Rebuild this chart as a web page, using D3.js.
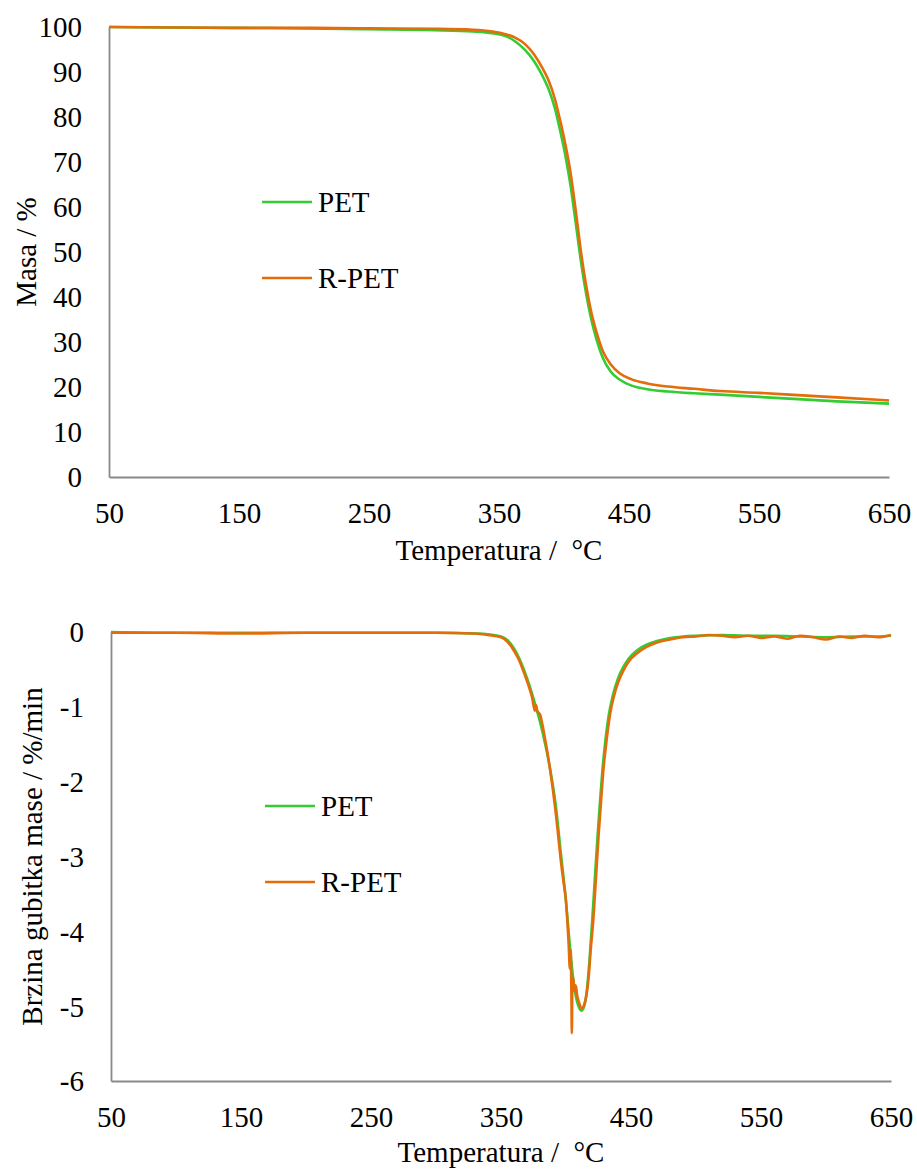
<!DOCTYPE html>
<html>
<head>
<meta charset="utf-8">
<script src="https://d3js.org/d3.v7.min.js"></script>
<style>
  body { margin: 0; background: #fff; }
  svg text { font-family: "Liberation Serif", "Times New Roman", serif !important; fill: #000; }
</style>
</head>
<body>
<div id="chart"></div>
<script>
// ---- data ----
// TG curves (mass %) vs temperature
const massTemp = [50, 100, 150, 200, 250, 300, 330, 345, 355, 362, 370, 377, 383, 388, 393, 397, 401, 405, 409, 413, 417, 421, 425, 430, 436, 443, 452, 464, 480, 500, 520, 550, 580, 610, 650]
const massPET  = [100, 99.9, 99.8, 99.7, 99.5, 99.3, 99.0, 98.6, 98.0, 96.9, 94.9, 92.4, 89.4, 86.3, 81.9, 77.0, 71.5, 64.8, 56.5, 48.0, 40.8, 35.0, 30.6, 26.4, 23.4, 21.6, 20.3, 19.5, 19.0, 18.6, 18.3, 17.8, 17.3, 16.8, 16.3]
const massRPET = [100, 99.9, 99.8, 99.8, 99.7, 99.6, 99.4, 99.0, 98.4, 97.7, 96.2, 93.9, 91.1, 88.2, 84.0, 79.3, 74.0, 67.7, 59.3, 50.2, 42.6, 36.6, 32.2, 27.9, 25.0, 23.0, 21.7, 20.8, 20.1, 19.6, 19.1, 18.7, 18.2, 17.7, 17.0]

// DTG curves (%/min) vs temperature
const dtgTempPET = [50, 100, 150, 200, 250, 300, 330, 340, 350, 355, 360, 364, 368, 372, 376, 380, 384, 388, 392, 396, 400, 403, 406, 409, 412, 414, 416, 418, 420, 422, 424, 426, 428, 430, 433, 436, 440, 444, 448, 455, 462, 470, 480, 490, 500, 520, 540, 560, 580, 600, 620, 640, 650]
const dtgPET     = [0, -0.01, -0.01, -0.01, -0.01, -0.01, -0.02, -0.03, -0.06, -0.11, -0.22, -0.35, -0.52, -0.72, -0.95, -1.2, -1.5, -1.85, -2.3, -2.95, -3.6, -4.2, -4.7, -4.97, -5.06, -5.0, -4.8, -4.4, -3.9, -3.35, -2.8, -2.3, -1.85, -1.5, -1.1, -0.85, -0.62, -0.47, -0.36, -0.24, -0.17, -0.12, -0.08, -0.06, -0.05, -0.04, -0.05, -0.05, -0.06, -0.07, -0.06, -0.06, -0.05]

const dtgTempRPET = [50, 100, 150, 200, 250, 300, 330, 340, 350, 355, 360, 364, 368, 372, 374, 376, 377, 378, 380, 382, 384, 386, 388, 390, 392, 394, 396, 398, 400, 401, 402, 403, 403.6, 404.2, 404.5, 404.9, 405.6, 406.5, 407.5, 408.5, 410, 412, 414, 416, 417.5, 419, 421, 423, 425, 427, 429, 431, 434, 437, 440, 444, 448, 455, 462, 470, 480, 490, 500, 510, 520, 530, 540, 550, 560, 570, 580, 590, 600, 610, 620, 630, 640, 650]
const dtgRPET     = [-0.01, -0.01, -0.02, -0.01, -0.01, -0.01, -0.02, -0.04, -0.07, -0.13, -0.25, -0.38, -0.56, -0.76, -0.88, -1.05, -0.98, -1.06, -1.1, -1.25, -1.44, -1.64, -1.87, -2.12, -2.4, -2.72, -3.05, -3.33, -3.6, -3.85, -4.15, -4.5, -4.25, -4.9, -5.36, -4.7, -4.62, -4.8, -4.72, -4.85, -4.95, -5.03, -4.98, -4.82, -4.6, -4.25, -3.85, -3.3, -2.74, -2.25, -1.8, -1.48, -1.09, -0.85, -0.68, -0.52, -0.40, -0.28, -0.2, -0.14, -0.1, -0.07, -0.06, -0.04, -0.05, -0.07, -0.05, -0.08, -0.06, -0.09, -0.05, -0.07, -0.1, -0.06, -0.08, -0.05, -0.07, -0.04]

const xTicks = [50, 150, 250, 350, 450, 550, 650]
const massTicks = [0, 10, 20, 30, 40, 50, 60, 70, 80, 90, 100]
const dtgTicks = [-6, -5, -4, -3, -2, -1, 0]
const seriesNames = ["PET", "R-PET"]

const colorPET = "#33cc33"
const colorRPET = "#e46c0a"
const axisColor = "#898989"
const serif = '"Liberation Serif", "Times New Roman", serif'
const fontSize = 29

const width = 917
const height = 1169

const svg = d3.select("#chart")
    .append("svg")
    .attr("width", width)
    .attr("height", height)
    .attr("font-family", serif)

function drawPanel(opts) {
    const x = d3.scaleLinear().domain([50, 650]).range(opts.xRange)
    const y = d3.scaleLinear().domain(opts.yDomain).range(opts.yRange)
    const g = svg.append("g")

    // axes - plain integer labels with a normal hyphen for negatives
    const fmt = d => String(d)
    const xAxis = g.append("g")
        .attr("transform", `translate(0, ${opts.yRange[0]})`)
        .call(d3.axisBottom(x).tickValues(xTicks).tickFormat(fmt).tickSize(0).tickPadding(25))
    const yAxis = g.append("g")
        .attr("transform", `translate(${opts.xRange[0]}, 0)`)
        .call(d3.axisLeft(y).tickValues(opts.yTicks).tickFormat(fmt).tickSize(0).tickPadding(27))

    ;[xAxis, yAxis].forEach(a => {
        a.attr("font-family", serif).attr("font-size", fontSize)
        a.select(".domain").attr("stroke", axisColor).attr("stroke-width", 1.8)
        a.selectAll("text").attr("fill", "#000")
    })
    yAxis.selectAll("text").attr("dy", "0.34em")

    // curves
    const line = (xs, ys) => d3.line()
        .x((d, i) => x(xs[i]))
        .y(d => y(d))
        .curve(d3.curveMonotoneX)(ys)

    g.append("path")
        .attr("d", line(opts.tPET, opts.vPET))
        .attr("fill", "none")
        .attr("stroke", colorPET)
        .attr("stroke-width", 2.6)
        .attr("stroke-linejoin", "round")
    g.append("path")
        .attr("d", line(opts.tRPET, opts.vRPET))
        .attr("fill", "none")
        .attr("stroke", colorRPET)
        .attr("stroke-width", 2.6)
        .attr("stroke-linejoin", "round")

    // axis titles
    g.append("text")
        .attr("x", (opts.xRange[0] + opts.xRange[1]) / 2)
        .attr("y", opts.xTitleY)
        .attr("text-anchor", "middle")
        .attr("font-size", fontSize)
        .style("white-space", "pre")
        .text("Temperatura /  °C")
    g.append("text")
        .attr("transform", `translate(${opts.yTitleX}, ${(opts.yRange[0] + opts.yRange[1]) / 2}) rotate(-90)`)
        .attr("text-anchor", "middle")
        .attr("font-size", fontSize)
        .text(opts.yTitle)

    // legend
    const leg = g.append("g")
    ;[colorPET, colorRPET].forEach((c, i) => {
        const ly = opts.legendY[i]
        leg.append("line")
            .attr("x1", opts.legendX).attr("x2", opts.legendX + 50)
            .attr("y1", ly).attr("y2", ly)
            .attr("stroke", c).attr("stroke-width", 2.6)
        leg.append("text")
            .attr("x", opts.legendX + 56)
            .attr("y", ly + 10)
            .attr("font-size", fontSize)
            .text(seriesNames[i])
    })
}

drawPanel({
    xRange: [109, 889], yRange: [477, 27], yDomain: [0, 100], yTicks: massTicks,
    tPET: massTemp, vPET: massPET, tRPET: massTemp, vRPET: massRPET,
    xTitleY: 560, yTitleX: 36, yTitle: "Masa / %",
    legendX: 262, legendY: [202, 278]
})

drawPanel({
    xRange: [111, 891], yRange: [1081, 632], yDomain: [-6, 0], yTicks: dtgTicks,
    tPET: dtgTempPET, vPET: dtgPET, tRPET: dtgTempRPET, vRPET: dtgRPET,
    xTitleY: 1162, yTitleX: 42, yTitle: "Brzina gubitka mase / %/min",
    legendX: 265, legendY: [806, 882]
})
</script>
</body>
</html>
